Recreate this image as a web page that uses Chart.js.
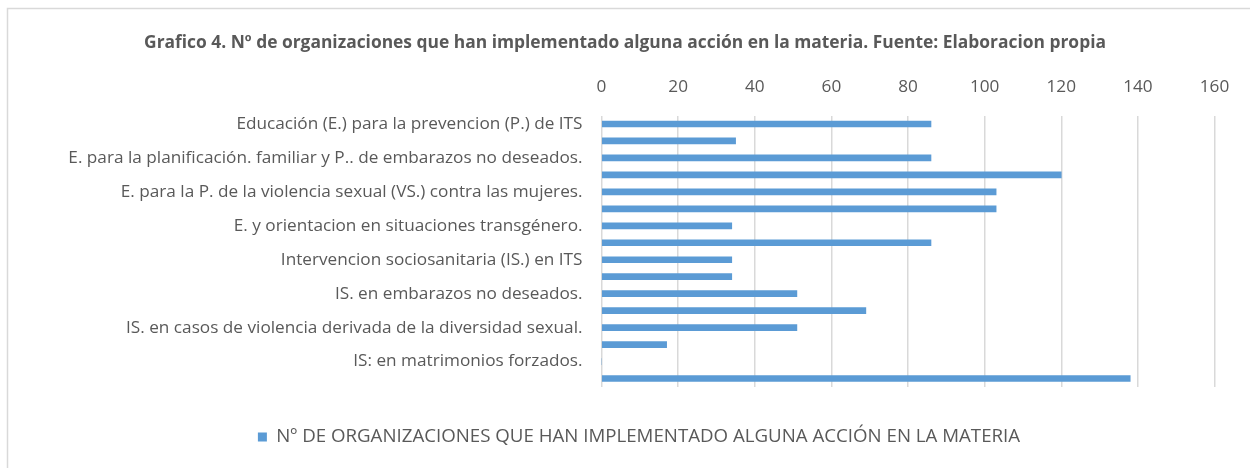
<!DOCTYPE html>
<html>
<head>
<meta charset="utf-8">
<script src="https://cdn.jsdelivr.net/npm/chart.js@4/dist/chart.umd.min.js"></script>
<style>
  html, body { margin: 0; padding: 0; background: #ffffff; }
  #wrap { position: relative; width: 1250px; height: 468px; }
</style>
</head>
<body>
<div id="wrap"><canvas id="c" width="1250" height="468"></canvas></div>
<script>
const categories = [
  "Educación (E.) para la prevencion (P.) de ITS",
  "E. para la P. del VIH/SIDA.",
  "E. para la planificación. familiar y P.. de embarazos no deseados.",
  "E. afectivo-sexual.",
  "E. para la P. de la violencia sexual (VS.) contra las mujeres.",
  "E. para la P. de la violencia derivada de la diversidad sexual.",
  "E. y orientacion en situaciones transgénero.",
  "E. para la P. de matrimonios forzados.",
  "Intervencion sociosanitaria (IS.) en ITS",
  "IS. en VIH/SIDA.",
  "IS. en embarazos no deseados.",
  "IS. en casos de VS. contra las mujeres.",
  "IS. en casos de violencia derivada de la diversidad sexual.",
  "IS. en situaciones transgénero.",
  "IS: en matrimonios forzados.",
  "Otras acciones."
];
const shownLabelIndexes = [0, 2, 4, 6, 8, 10, 12, 14];
const seriesName = "Nº DE ORGANIZACIONES QUE HAN IMPLEMENTADO ALGUNA ACCIÓN EN LA MATERIA";
const seriesValues = [86, 35, 86, 120, 103, 103, 34, 86, 34, 34, 51, 69, 51, 17, 0, 138];
const xTicks = [0, 20, 40, 60, 80, 100, 120, 140, 160];
const titleText = "Grafico 4. Nº de organizaciones que han implementado alguna acción en la materia. Fuente: Elaboracion propia";

const TEXT = "#595959";
const GRID = "#d9d9d9";
const BAR = "#5B9BD5";
const FONT = "'Open Sans', 'DejaVu Sans', sans-serif";

// choose font sizes so the text widths match the reference
function fitSize(text, weight, targetWidth) {
  const ctx = document.createElement('canvas').getContext('2d');
  ctx.font = weight + ' 100px ' + FONT;
  return Math.round(1000 * targetWidth / ctx.measureText(text).width) / 10;
}
const labelSize = fitSize(categories[12], 'normal', 456);
const titleSize = fitSize(titleText, 'bold', 962);
const legendSize = fitSize(seriesName, 'normal', 744);

const frame = {
  id: 'frame',
  beforeDraw(chart) {
    const ctx = chart.ctx;
    ctx.save();
    ctx.fillStyle = '#ffffff';
    ctx.fillRect(0, 0, chart.width, chart.height);
    ctx.strokeStyle = GRID;
    ctx.lineWidth = 1.5;
    ctx.beginPath();
    ctx.moveTo(7.5, chart.height);
    ctx.lineTo(7.5, 8.5);
    ctx.lineTo(chart.width, 8.5);
    ctx.stroke();
    ctx.restore();
  }
};

const legendShift = {
  id: 'legendShift',
  afterLayout(chart) {
    const lg = chart.legend;
    if (lg) { lg.left += 14; lg.right += 14; }
  }
};

new Chart(document.getElementById('c'), {
  type: 'bar',
  data: {
    labels: categories,
    datasets: [{
      label: seriesName,
      data: seriesValues,
      backgroundColor: BAR,
      borderWidth: 0,
      barThickness: 6
    }]
  },
  options: {
    indexAxis: 'y',
    responsive: false,
    animation: false,
    devicePixelRatio: 1,
    layout: { padding: { left: 0, right: 0, top: 0, bottom: 21 - legendSize / 2 } },
    plugins: {
      title: {
        display: true,
        text: titleText,
        color: TEXT,
        font: { family: FONT, size: titleSize, weight: 'bold', lineHeight: 1.2 },
        padding: { top: 43 - titleSize * 0.6, bottom: 0 }
      },
      legend: {
        display: true,
        position: 'bottom',
        labels: {
          color: TEXT,
          font: { family: FONT, size: legendSize },
          boxWidth: 9,
          boxHeight: 9,
          padding: 50 - legendSize / 2
        }
      },
      tooltip: { enabled: false }
    },
    scales: {
      x: {
        position: 'top',
        min: 0,
        max: 160,
        afterBuildTicks(scale) { scale.ticks = xTicks.map(v => ({ value: v })); },
        afterFit(scale) { scale.height = 115.5 - (43 + titleSize * 0.6); },
        ticks: {
          color: TEXT,
          font: { family: FONT, size: labelSize },
          padding: 18,
          maxRotation: 0
        },
        grid: { color: GRID, lineWidth: 1.5, drawTicks: false },
        border: { display: false }
      },
      y: {
        afterFit(scale) { scale.width = 601.5; },
        ticks: {
          autoSkip: false,
          color: TEXT,
          font: { family: FONT, size: labelSize },
          padding: 19,
          callback(value, index) {
            return shownLabelIndexes.includes(index) ? categories[index] : '';
          }
        },
        grid: { display: false, drawTicks: false },
        border: { display: false }
      },
      yPad: {
        type: 'category',
        position: 'right',
        afterFit(scale) { scale.width = 35.5; },
        ticks: { display: false },
        grid: { display: false, drawTicks: false },
        border: { display: false }
      }
    }
  },
  plugins: [frame, legendShift]
});
</script>
</body>
</html>
